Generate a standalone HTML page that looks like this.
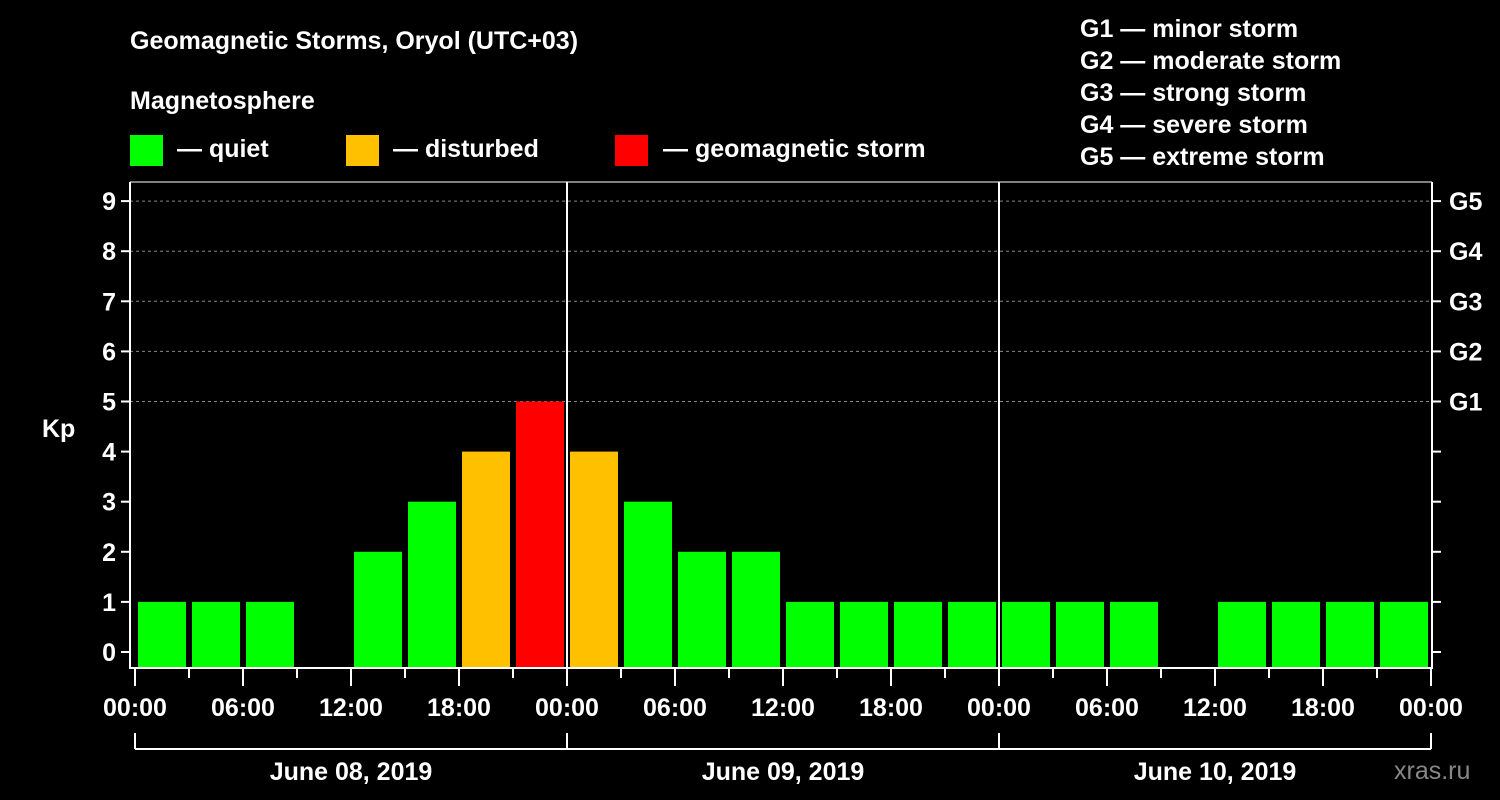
<!DOCTYPE html>
<html><head><meta charset="utf-8"><style>
body{margin:0;background:#000;}
svg{display:block;font-family:"Liberation Sans",Arial,sans-serif;font-weight:bold;}
</style></head><body>
<svg id="chart" width="1500" height="800" viewBox="0 0 1500 800">
<rect width="1500" height="800" fill="#000"/>
<text x="130" y="49" fill="#fff" font-size="25">Geomagnetic Storms, Oryol (UTC+03)</text>
<text x="130" y="109" fill="#fff" font-size="25">Magnetosphere</text>
<g>
<rect x="130" y="135" width="33" height="31" fill="#00ff00"/>
<text x="177" y="157" fill="#fff" font-size="25">— quiet</text>
<rect x="346" y="135" width="33" height="31" fill="#ffc000"/>
<text x="393" y="157" fill="#fff" font-size="25">— disturbed</text>
<rect x="615" y="135" width="33" height="31" fill="#ff0000"/>
<text x="663" y="157" fill="#fff" font-size="25">— geomagnetic storm</text>
</g>
<g fill="#fff" font-size="25">
<text x="1080" y="37">G1 — minor storm</text>
<text x="1080" y="69">G2 — moderate storm</text>
<text x="1080" y="101">G3 — strong storm</text>
<text x="1080" y="133">G4 — severe storm</text>
<text x="1080" y="165">G5 — extreme storm</text>
</g>
<text x="42" y="437" fill="#fff" font-size="25">Kp</text>
<text x="1394" y="779" fill="#888" font-size="25" font-weight="normal">xras.ru</text>
<g id="grid"></g><g id="bars"></g><g id="axes"></g>
</svg>
<script>
const categories = ["00:00","03:00","06:00","09:00","12:00","15:00","18:00","21:00"];
const days = ["June 08, 2019","June 09, 2019","June 10, 2019"];
const kpValues = [1,1,1,0,2,3,4,5, 4,3,2,2,1,1,1,1, 1,1,1,0,1,1,1,1];
const xTickLabels = ["00:00","06:00","12:00","18:00","00:00","06:00","12:00","18:00","00:00","06:00","12:00","18:00","00:00"];
const yTicks = [0,1,2,3,4,5,6,7,8,9];
const gLabels = ["G1","G2","G3","G4","G5"];
const NS="http://www.w3.org/2000/svg";
const X0=135, X1=1431, L=130, R=1432, TOP=182, BOT=668;
const n=kpValues.length;
const slot=(X1-X0)/n;
function x(i){return X0+i*slot;}
function y(v){return 652-50.1*v;}
function mk(tag,attrs,parent){const e=document.createElementNS(NS,tag);for(const k in attrs)e.setAttribute(k,attrs[k]);parent.appendChild(e);return e;}
const grid=document.getElementById('grid'), bars=document.getElementById('bars'), axes=document.getElementById('axes');
for(let v=5;v<=9;v++){
  const l=mk('line',{x1:L,x2:R,y1:y(v),y2:y(v),stroke:'#888','stroke-dasharray':'3,3','stroke-width':1},grid);
  
  
}
kpValues.forEach((v,i)=>{
  if(v<=0)return;
  const c=v>=5?'#ff0000':(v>=4?'#ffc000':'#00ff00');
  const r=mk('rect',{x:x(i)+3,y:y(v),width:slot-6,height:BOT-y(v),fill:c},bars);
  
  
});
// frame
const fr=mk('path',{d:`M${L},${TOP} V${BOT} H${R} V${TOP}`,stroke:'#fff','stroke-width':2,fill:'none'},axes);


mk('line',{x1:L,x2:R,y1:TOP,y2:TOP,stroke:'#fff','stroke-width':1},axes);
for(let d=1;d<days.length;d++){
  const dl=mk('line',{x1:x(d*8),x2:x(d*8),y1:TOP,y2:BOT,stroke:'#fff','stroke-width':2},axes);
  
  
}
yTicks.forEach(v=>{
  mk('line',{x1:L-9,x2:L,y1:y(v),y2:y(v),stroke:'#fff','stroke-width':2},axes);
  mk('line',{x1:R,x2:R+9,y1:y(v),y2:y(v),stroke:'#fff','stroke-width':2},axes);
  const t=mk('text',{x:L-14,y:y(v)+9,fill:'#fff','font-size':25,'text-anchor':'end'},axes);
  t.textContent=v;
  
  
});
gLabels.forEach((g,i)=>{
  const t=mk('text',{x:1449,y:y(5+i)+9,fill:'#fff','font-size':25},axes);
  t.textContent=g;
  
  
});
for(let i=0;i<=n;i++){
  const major=i%2===0;
  mk('line',{x1:x(i),x2:x(i),y1:BOT,y2:BOT+(major?18:10),stroke:'#fff','stroke-width':2},axes);
}
xTickLabels.forEach((s,j)=>{
  const t=mk('text',{x:x(j*2),y:716,fill:'#fff','font-size':25,'text-anchor':'middle'},axes);
  t.textContent=s;
  
  
});
mk('line',{x1:X0,x2:X1,y1:749,y2:749,stroke:'#fff','stroke-width':2},axes);
for(let d=0;d<=days.length;d++) mk('line',{x1:x(d*8),x2:x(d*8),y1:733,y2:749,stroke:'#fff','stroke-width':2},axes);
days.forEach((s,d)=>{
  const t=mk('text',{x:(x(d*8)+x(d*8+8))/2,y:780,fill:'#fff','font-size':25,'text-anchor':'middle'},axes);
  t.textContent=s;
  
  
});
</script>
</body></html>
